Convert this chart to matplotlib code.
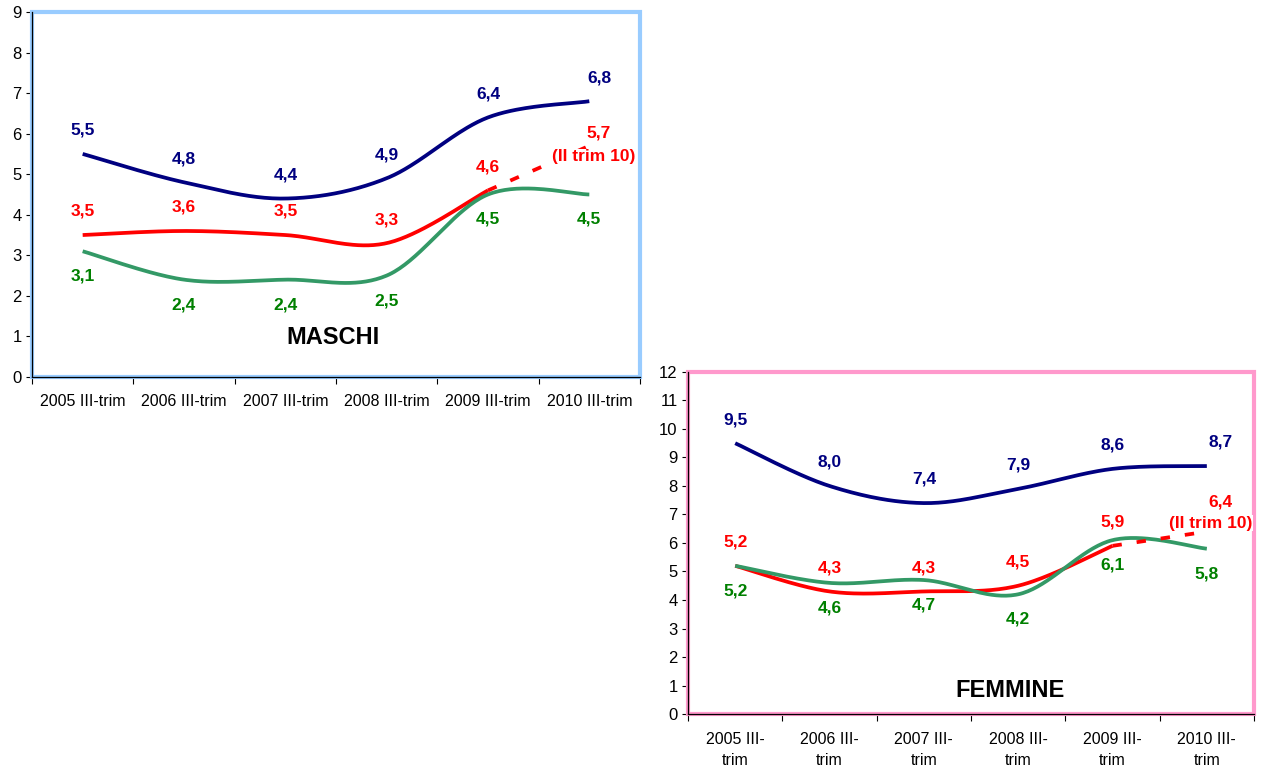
import numpy as np
import matplotlib
matplotlib.use("Agg")
import matplotlib.pyplot as plt
from matplotlib.patches import Rectangle

plt.rcParams['font.family'] = ['Liberation Sans', 'DejaVu Sans']

periods_m = ["2005 III-trim", "2006 III-trim", "2007 III-trim", "2008 III-trim", "2009 III-trim", "2010 III-trim"]
periods_f = ["2005 III-\ntrim", "2006 III-\ntrim", "2007 III-\ntrim", "2008 III-\ntrim", "2009 III-\ntrim", "2010 III-\ntrim"]

m_blue = [5.5, 4.8, 4.4, 4.9, 6.4, 6.8]
m_red = [3.5, 3.6, 3.5, 3.3, 4.6]
m_green = [3.1, 2.4, 2.4, 2.5, 4.5, 4.5]
m_red_ii = 5.7

f_blue = [9.5, 8.0, 7.4, 7.9, 8.6, 8.7]
f_red = [5.2, 4.3, 4.3, 4.5, 5.9]
f_green = [5.2, 4.6, 4.7, 4.2, 6.1, 5.8]
f_red_ii = 6.4

NAVY = "#000080"
RED = "#FF0000"
GREEN_LINE = "#339966"
GREEN_TXT = "#008000"


def smooth(y, n=40):
    y = np.asarray(y, float)
    x = np.arange(len(y), dtype=float)
    if len(y) < 3:
        return x, y
    P = np.column_stack([x, y])
    P = np.vstack([P[0], P, P[-1]])
    out = []
    t = np.linspace(0, 1, n)
    for i in range(1, len(P) - 2):
        p0, p1, p2, p3 = P[i - 1], P[i], P[i + 1], P[i + 2]
        c1 = p1 + (p2 - p0) / 6.0
        c2 = p2 - (p3 - p1) / 6.0
        tt = t[:, None]
        seg = ((1 - tt) ** 3) * p1 + 3 * ((1 - tt) ** 2) * tt * c1 + 3 * (1 - tt) * tt ** 2 * c2 + tt ** 3 * p2
        out.append(seg if i == 1 else seg[1:])
    out = np.vstack(out)
    return out[:, 0], out[:, 1]


def fmt(v):
    return f"{v:.1f}".replace(".", ",")


LFS = 12.5


def panel(ax, blue, red, green, red_ii, labels, ymax, border, title, title_pos,
          xfs, yfs, last_dx, ii_off, val_off, xpad):
    for data, col in ((blue, NAVY), (red, RED), (green, GREEN_LINE)):
        xs, ys = smooth(data)
        ax.plot(xs, ys, color=col, lw=2.7, solid_capstyle='butt', zorder=3)
    n = len(red)
    ax.plot([n - 1, n], [red[-1], red_ii], color=RED, lw=2.7,
            linestyle=(0, (2.5, 4)), zorder=3)

    off = 17
    for i, v in enumerate(blue):
        dx = last_dx if i == len(blue) - 1 else 0
        ax.annotate(fmt(v), (i, v), xytext=(dx, off), textcoords='offset points',
                    ha='center', va='center', color=NAVY, fontsize=LFS, fontweight='bold', zorder=5)
    for i, v in enumerate(red):
        ax.annotate(fmt(v), (i, v), xytext=(0, off), textcoords='offset points',
                    ha='center', va='center', color=RED, fontsize=LFS, fontweight='bold', zorder=5)
    for i, v in enumerate(green):
        ax.annotate(fmt(v), (i, v), xytext=(0, -off - 1), textcoords='offset points',
                    ha='center', va='center', color=GREEN_TXT, fontsize=LFS, fontweight='bold', zorder=5)
    ax.annotate(fmt(red_ii), (n, red_ii), xytext=val_off, textcoords='offset points',
                ha='center', va='center', color=RED, fontsize=LFS, fontweight='bold', zorder=5)
    ax.annotate("(II trim 10)", (n, red_ii), xytext=ii_off, textcoords='offset points',
                ha='center', va='center', color=RED, fontsize=LFS, fontweight='bold', zorder=5,
                bbox=dict(facecolor='white', edgecolor='none', pad=0.3))

    ax.set_xlim(-0.5, 5.5)
    ax.set_ylim(0, ymax)
    ax.set_yticks(range(0, ymax + 1))
    ax.tick_params(axis='y', labelsize=yfs, length=4, direction='out', width=0.8)
    ax.set_xticks(np.arange(-0.5, 6.0, 1.0))
    ax.set_xticklabels([])
    ax.set_xticks(np.arange(6), minor=True)
    ax.set_xticklabels(labels, minor=True, fontsize=xfs, linespacing=1.5)
    ax.tick_params(axis='x', which='major', length=5, direction='out', width=0.8)
    ax.tick_params(axis='x', which='minor', length=0, pad=xpad)
    for s in ('top', 'right'):
        ax.spines[s].set_visible(False)
    for s in ('left', 'bottom'):
        ax.spines[s].set_color('black')
        ax.spines[s].set_linewidth(0.9)
        ax.spines[s].set_zorder(6)
    rect = Rectangle((0, 0), 1, 1, transform=ax.transAxes, fill=False,
                     edgecolor=border, lw=3, clip_on=False, zorder=2)
    ax.add_patch(rect)
    ax.text(title_pos[0], title_pos[1], title, transform=ax.transAxes, ha='center', va='center',
            fontsize=17, fontweight='bold', color='black')


fig = plt.figure(figsize=(12.65, 7.69), dpi=100)
ax1 = fig.add_axes([0.0253, 0.5098, 0.4806, 0.4746])
ax2 = fig.add_axes([0.5439, 0.0715, 0.4474, 0.4448])

panel(ax1, m_blue, m_red, m_green, m_red_ii, periods_m, 9, "#99CCFF", "MASCHI", (0.495, 0.107),
      11.5, 12, 7, (3, -8), (7, 9), 12)
panel(ax2, f_blue, f_red, f_green, f_red_ii, periods_f, 12, "#FF99CC", "FEMMINE", (0.569, 0.07),
      11.5, 12, 10, (3, 6), (10, 21), 13)

fig.savefig("out.png", dpi=100)
